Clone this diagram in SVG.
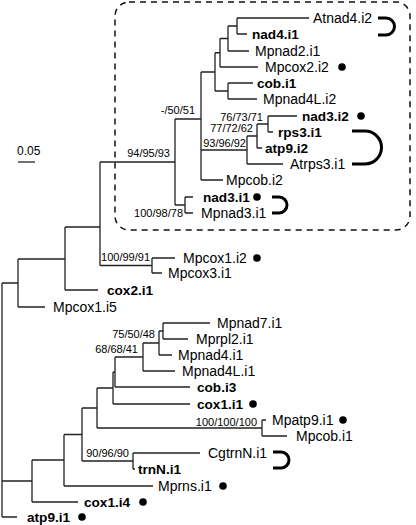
<svg xmlns="http://www.w3.org/2000/svg" width="416" height="525" viewBox="0 0 416 525">
<style>
.t{font-family:"Liberation Sans",Arial,sans-serif;font-size:14px;dominant-baseline:central;fill:#000}
.b{font-weight:bold;font-size:13.6px}
.s{font-family:"Liberation Sans",Arial,sans-serif;font-size:11px;dominant-baseline:central;text-anchor:end;fill:#000}
.br{fill:none;stroke:#000;stroke-width:3}
.ln{fill:none;stroke:#222;stroke-width:1.3}
</style>
<rect width="416" height="525" fill="#fff"/>
<rect id="box" x="115" y="2" width="295" height="228" rx="14" fill="none" stroke="#111" stroke-width="1.5" stroke-dasharray="6 5"/>
<g id="connectors" class="ln">
<path d="M237,18V34M237,18H309M237,34H247"/>
<path d="M228,26V51M228,26H237M228,51H249"/>
<path d="M220,38.5V67M220,38.5H228M220,67H258"/>
<path d="M228,83V99M228,83H253M228,99H257"/>
<path d="M215,52.75V91M215,52.75H220M215,91H228"/>
<path d="M268,116V132M268,116H297M268,132H273"/>
<path d="M257,124V148M257,124H268M257,148H262"/>
<path d="M247,136V164M247,136H257M247,164H283"/>
<path d="M201,72V180M201,72H215M201,150H247M201,180H223"/>
<path d="M185,197V213M185,197H193M185,213H193"/>
<path d="M175,119V205M175,119H201M175,205H185"/>
<path d="M152,258V273M152,258H175M152,273H162"/>
<path d="M100,162V265.5M100,162H175M100,265.5H152"/>
<path d="M65,227V290M65,227H100M65,290H98"/>
<path d="M18,259V307M18,259H65M18,307H45"/>
<path d="M2,283V517M2,283H18M2,481H32M2,517H17"/>
<path d="M163,323V339M163,323H210M163,339H188"/>
<path d="M159,331V355M159,331H163M159,355H172"/>
<path d="M143,343V371M143,343H159M143,371H175"/>
<path d="M115,357V387M115,357H143M115,387H190"/>
<path d="M113,372V404M113,372H115M113,404H190"/>
<path d="M262,420V436M262,420H266M262,436H287"/>
<path d="M97,388V428M97,388H113M97,428H262"/>
<path d="M133,453V469M133,453H200M133,469H135"/>
<path d="M82,408V461M82,408H97M82,461H133"/>
<path d="M64,434.5V486M64,434.5H82M64,486H153"/>
<path d="M32,460V502M32,460H64M32,502H78"/>
<path d="M18,162H35"/>
</g>
<g id="brackets" class="br">
<path d="M378,18H386A8.5,8.5 0 0 1 386,35H378"/>
<path d="M352,131H365A16.5,16.5 0 0 1 365,164H352"/>
<path d="M272,197H279A8,8 0 0 1 279,213H272"/>
<path d="M273,452H281A8,8 0 0 1 281,468H273"/>
</g>
<g id="dots" fill="#000">
<circle cx="342" cy="67" r="3.8"/>
<circle cx="361" cy="116" r="3.8"/>
<circle cx="257" cy="197" r="3.8"/>
<circle cx="257" cy="258" r="3.8"/>
<circle cx="253" cy="404" r="3.8"/>
<circle cx="343" cy="420" r="3.8"/>
<circle cx="223" cy="486" r="3.8"/>
<circle cx="143" cy="502" r="3.8"/>
<circle cx="82" cy="517" r="3.8"/>
</g>
<g id="leaves">
<text class="t" x="313" y="18">Atnad4.i2</text>
<text class="t b" x="252" y="34">nad4.i1</text>
<text class="t" x="255" y="51">Mpnad2.i1</text>
<text class="t" x="265" y="67">Mpcox2.i2</text>
<text class="t b" x="257" y="83">cob.i1</text>
<text class="t" x="263" y="99">Mpnad4L.i2</text>
<text class="t b" x="302" y="116">nad3.i2</text>
<text class="t b" x="278" y="132">rps3.i1</text>
<text class="t b" x="265" y="148">atp9.i2</text>
<text class="t" x="290" y="164">Atrps3.i1</text>
<text class="t" x="226" y="180">Mpcob.i2</text>
<text class="t b" x="203" y="197">nad3.i1</text>
<text class="t" x="201" y="213">Mpnad3.i1</text>
<text class="t" x="183" y="258">Mpcox1.i2</text>
<text class="t" x="168" y="273">Mpcox3.i1</text>
<text class="t b" x="107" y="290">cox2.i1</text>
<text class="t" x="53" y="307">Mpcox1.i5</text>
<text class="t" x="217" y="323">Mpnad7.i1</text>
<text class="t" x="196" y="339">Mprpl2.i1</text>
<text class="t" x="178" y="355">Mpnad4.i1</text>
<text class="t" x="182" y="371">Mpnad4L.i1</text>
<text class="t b" x="197" y="387">cob.i3</text>
<text class="t b" x="197" y="404">cox1.i1</text>
<text class="t" x="272" y="420">Mpatp9.i1</text>
<text class="t" x="296" y="436">Mpcob.i1</text>
<text class="t" x="208" y="453">CgtrnN.i1</text>
<text class="t b" x="138" y="469">trnN.i1</text>
<text class="t" x="158" y="486">Mprns.i1</text>
<text class="t b" x="84" y="502">cox1.i4</text>
<text class="t b" x="27" y="517">atp9.i1</text>
</g>
<g id="support">
<text class="s" x="195" y="110">-/50/51</text>
<text class="s" x="170" y="153">94/95/93</text>
<text class="s" x="263" y="117">76/73/71</text>
<text class="s" x="253" y="128">77/72/62</text>
<text class="s" x="246" y="143">93/96/92</text>
<text class="s" x="183" y="213">100/98/78</text>
<text class="s" x="150" y="257">100/99/91</text>
<text class="s" x="155" y="334">75/50/48</text>
<text class="s" x="138" y="349">68/68/41</text>
<text class="s" x="257" y="422">100/100/100</text>
<text class="s" x="129" y="453">90/96/90</text>
<text class="t" x="17" y="151" style="font-size:12px">0.05</text>
</g>
</svg>
